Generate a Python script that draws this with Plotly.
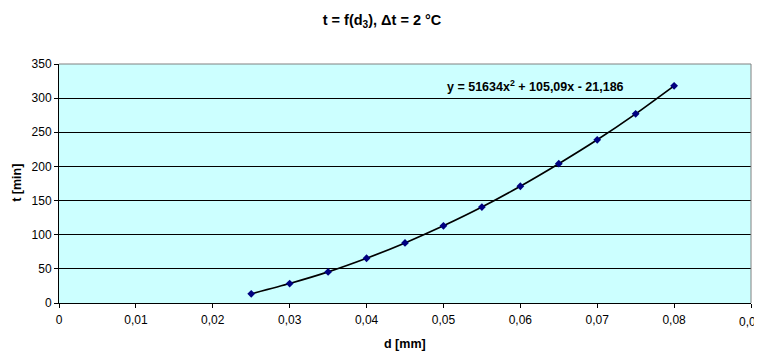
import plotly.graph_objects as go

d_mm = [0.025, 0.03, 0.035, 0.04, 0.045, 0.05, 0.055, 0.06, 0.065, 0.07, 0.075, 0.08]
t_min = [13.5, 28.5, 45.5, 65.5, 88, 113, 140.5, 171, 204, 239, 277, 318]

x_tickvals = [0, 0.01, 0.02, 0.03, 0.04, 0.05, 0.06, 0.07, 0.08, 0.09]
x_ticktext = ["0", "0,01", "0,02", "0,03", "0,04", "0,05", "0,06", "0,07", "0,08", "0,09"]
y_tickvals = [0, 50, 100, 150, 200, 250, 300, 350]
y_ticktext = ["0", "50", "100", "150", "200", "250", "300", "350"]

title_text = "t = f(d<sub>3</sub>), Δt = 2 °C"
equation_text = "y = 51634x<sup>2</sup> + 105,09x - 21,186"
x_title = "d [mm]"
y_title = "t [min]"

FONT = "Liberation Sans, Arial, sans-serif"
W, H = 754, 344  # page body has an 8px margin

# last x tick label would overflow the div (plotly hides it); draw it as an annotation
shown_ticktext = x_ticktext[:-1] + [""]

fig = go.Figure()
fig.add_trace(go.Scatter(
    x=d_mm, y=t_min, mode="lines+markers",
    line=dict(color="black", width=1.7, shape="spline", smoothing=0.6),
    marker=dict(symbol="diamond", size=6, color="#000080"),
    showlegend=False, hoverinfo="x+y",
))

fig.update_layout(
    width=W, height=H,
    margin=dict(l=51, r=11, t=56, b=49),
    paper_bgcolor="white",
    plot_bgcolor="#CCFFFF",
    font=dict(family=FONT, size=12, color="black"),
    title=dict(text="<b>" + title_text + "</b>", x=374 / W, xanchor="center",
               y=1 - 12 / H, yanchor="middle",
               font=dict(size=14.5, family=FONT)),
    xaxis=dict(
        range=[0, 0.09], tickvals=x_tickvals, ticktext=shown_ticktext,
        showgrid=False, zeroline=False,
        showline=True, linecolor="black", linewidth=1,
        ticks="outside", ticklen=4, tickcolor="black",
        tickfont=dict(size=12), ticklabelstandoff=2,
    ),
    yaxis=dict(
        range=[0, 350], tickvals=y_tickvals, ticktext=y_ticktext,
        showgrid=True, gridcolor="black", gridwidth=1,
        zeroline=False,
        showline=True, linecolor="black", linewidth=1,
        ticks="outside", ticklen=4, tickcolor="black",
        tickfont=dict(size=12),
    ),
    shapes=[
        dict(type="line", xref="paper", yref="paper", x0=0, x1=1, y0=1, y1=1,
             line=dict(color="#808080", width=1)),
        dict(type="line", xref="paper", yref="paper", x0=1, x1=1, y0=0, y1=1,
             line=dict(color="#808080", width=1)),
    ],
    annotations=[
        dict(text="<b>" + equation_text + "</b>", x=0.062, y=318, xref="x", yref="y",
             xanchor="center", yanchor="middle", showarrow=False,
             font=dict(size=12.5, family=FONT)),
        dict(text=x_ticktext[-1], x=x_tickvals[-1], y=0, xref="x", yref="paper",
             yshift=-19, xanchor="center", yanchor="middle", showarrow=False,
             font=dict(size=12, family=FONT)),
        dict(text="<b>" + x_title + "</b>", x=0.045, y=0, xref="x", yref="paper",
             yshift=-41, xanchor="center", yanchor="middle", showarrow=False,
             font=dict(size=12.5, family=FONT)),
        dict(text="<b>" + y_title + "</b>", x=0, y=176, xref="paper", yref="y",
             xshift=-42, xanchor="center", yanchor="middle", showarrow=False,
             textangle=-90, font=dict(size=12.5, family=FONT)),
    ],
)

fig.write_html("out.html")
